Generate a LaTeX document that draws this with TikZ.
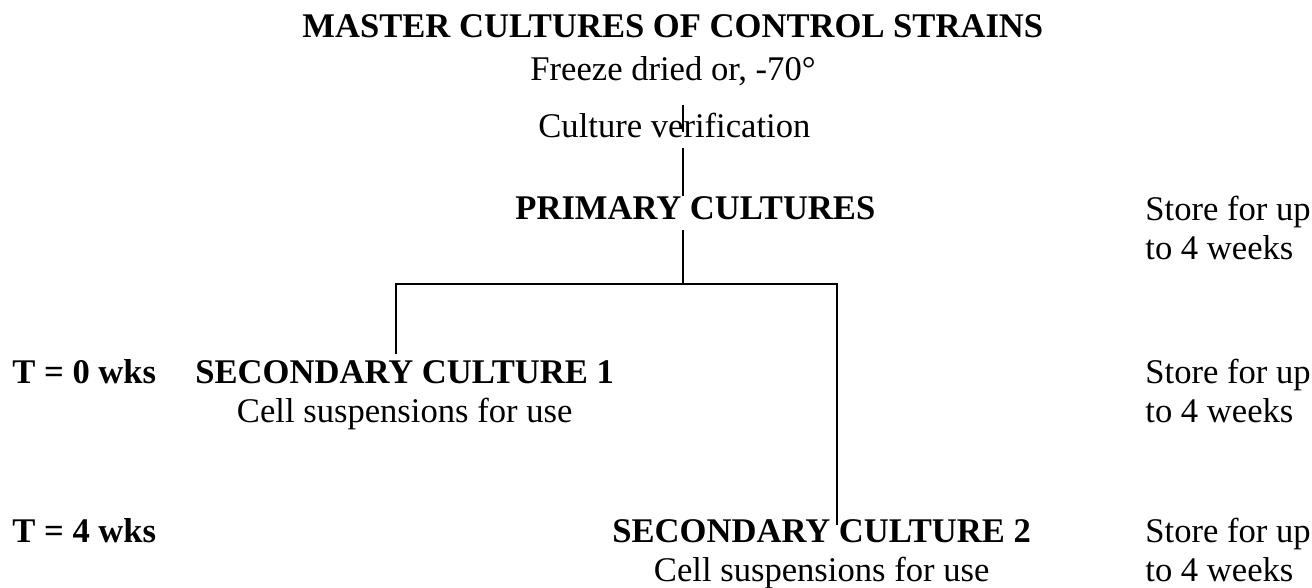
\documentclass[tikz,border=0pt]{standalone}
\usepackage{fontspec}
\setmainfont{Liberation Serif}
\begin{document}
\begin{tikzpicture}[x=0.5pt, y=-0.5pt,
    txt/.style={anchor=base west, inner sep=0pt, text height=0.66em, text depth=0pt,
                font=\fontsize{17.3}{20}\selectfont},
    head/.style={txt, font=\fontsize{17.3}{20}\selectfont\bfseries},
    link/.style={line width=0.7pt}]

\useasboundingbox (0,0) rectangle (1312,588);

% ===== Top column =====
\node[head] (master) at (302,38) {MASTER CULTURES OF CONTROL STRAINS};
\node[txt] (freeze) at (530,81) {Freeze dried or, -70°};
\node[txt] (verif) at (538,138) {Culture verification};
\node[head] (primary) at (515,220) {PRIMARY CULTURES};

% ===== Time rows =====
\node[head] (t0) at (12,383) {T = 0 wks};
\node[head] (t4) at (12,542) {T = 4 wks};

\node[head] (sec1) at (195,383) {SECONDARY CULTURE 1};
\node[txt, anchor=base] (use1) at ([yshift=-19.5pt]sec1.base) {Cell suspensions for use};

\node[head] (sec2) at (612,542) {SECONDARY CULTURE 2};
\node[txt, anchor=base] (use2) at ([yshift=-19.5pt]sec2.base) {Cell suspensions for use};

% ===== Storage notes =====
\foreach \y [count=\i from 0] in {221,383,542} {
    \node[txt] (store\i) at (1145,\y) {Store for up};
    \node[txt] (weeks\i) at ([yshift=-19.5pt]store\i.base west) {to 4 weeks};
}

% ===== Connectors =====
\coordinate (spine) at (683,284);
\coordinate (lefttap) at (396,284);
\coordinate (righttap) at (837,284);

\draw[link, shorten <=12pt, shorten >=-3.7pt] (freeze.south -| spine) -- (verif.north -| spine);
\draw[link, shorten <=5pt, shorten >=5.3pt] (verif.south -| spine) -- (primary.north -| spine);
\draw[link, shorten <=5pt] (primary.south -| spine) -- (spine);
\draw[link, shorten <=7.5pt, shorten >=1.5pt] (sec1.north -| lefttap) -- (lefttap) -- (righttap) -- (sec2.north -| righttap);

\end{tikzpicture}
\end{document}
